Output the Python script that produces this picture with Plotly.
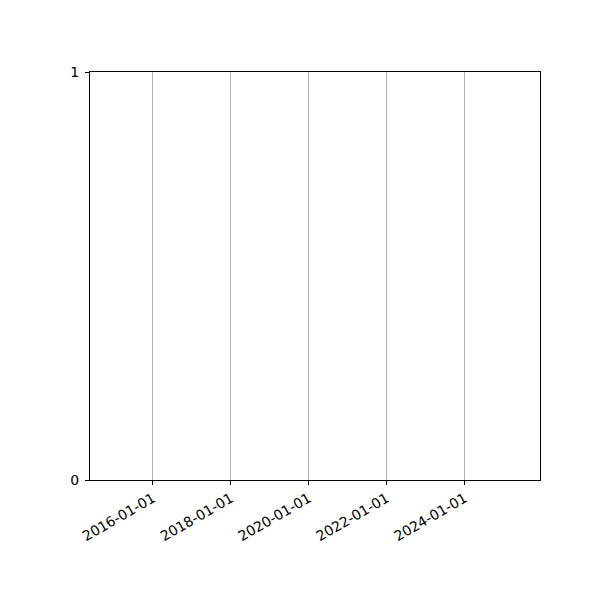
import plotly.graph_objects as go

# Data: the chart has no plotted series, only a date axis and a 0..1 value axis
dates = []
values = []
x_range = ['2014-05-21', '2025-12-07']
x_ticks = ['2016-01-01', '2018-01-01', '2020-01-01', '2022-01-01', '2024-01-01']
y_ticks = [0, 1]

fig = go.Figure()
fig.add_scatter(x=dates, y=values, mode='lines', showlegend=False)

# page body adds an 8px offset, margins compensate for it
fig.update_layout(
    width=600, height=600,
    margin=dict(l=82, r=68, t=64, b=128),
    paper_bgcolor='white', plot_bgcolor='white',
    font=dict(family='DejaVu Sans', size=14, color='black'),
    showlegend=False,
    xaxis=dict(type='date', range=x_range, tickvals=x_ticks, ticktext=x_ticks,
               tickangle=-30, ticks='outside', ticklen=4, tickcolor='black',
               showgrid=True, gridcolor='#b0b0b0', gridwidth=1,
               showline=True, linecolor='black', linewidth=1, mirror=True,
               zeroline=False),
    yaxis=dict(range=[0, 1], tickvals=y_ticks, ticks='outside', ticklen=4,
               tickcolor='black', showgrid=False, showline=True,
               linecolor='black', linewidth=1, mirror=True, zeroline=False,
               ticklabelstandoff=3),
)

fig.write_html('out.html')
